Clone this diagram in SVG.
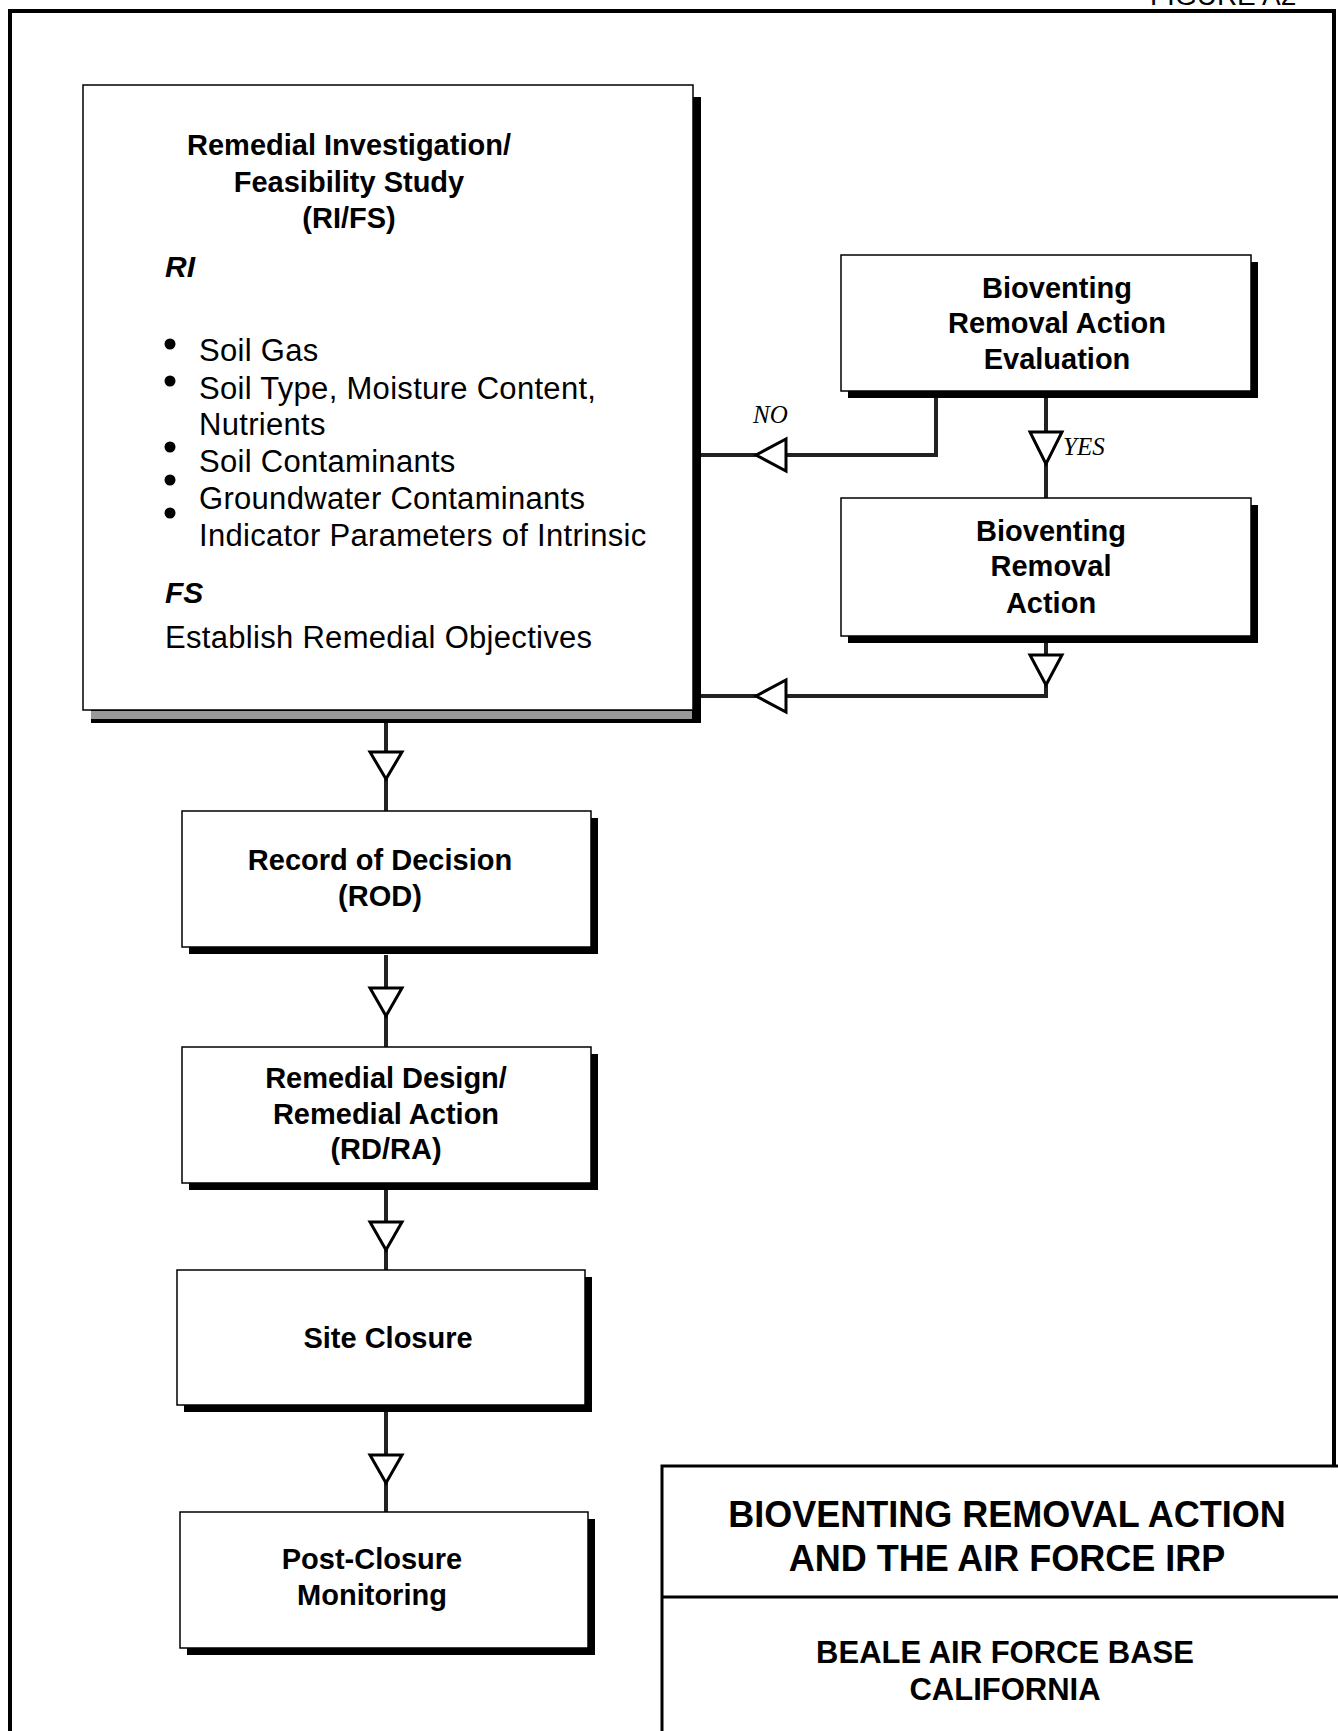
<svg xmlns="http://www.w3.org/2000/svg" width="1338" height="1731" viewBox="0 0 1338 1731">
<style>
.box{fill:#fff;stroke:#000;stroke-width:1.5}
.sh{fill:#000}
.b{font-family:"Liberation Sans",Arial,sans-serif;font-weight:bold;font-size:29px;text-anchor:middle;fill:#000}
.bi{font-family:"Liberation Sans",Arial,sans-serif;font-weight:bold;font-style:italic;font-size:30px;fill:#000}
.r{font-family:"Liberation Sans",Arial,sans-serif;font-size:31px;letter-spacing:0.3px;fill:#000}
.lbl{font-family:"Liberation Serif","Times New Roman",serif;font-style:italic;font-size:25px;fill:#000}
.t{font-family:"Liberation Sans",Arial,sans-serif;font-weight:bold;text-anchor:middle;fill:#000}
.conn{fill:none;stroke:#222;stroke-width:4}
.ah{fill:#fff;stroke:#000;stroke-width:3;stroke-linejoin:miter}
</style>
<rect width="1338" height="1731" fill="#fff"/>
<text x="1150" y="5" style="font-family:'Liberation Sans',Arial,sans-serif;font-size:28px">FIGURE A2</text>
<rect x="10" y="11" width="1324" height="1760" fill="none" stroke="#000" stroke-width="4"/>

<g id="connectors">
<path class="conn" d="M936 391 V455 H700"/>
<polygon class="ah" points="756,455 786,439 786,471"/>
<path class="conn" d="M1046 391 V498"/>
<polygon class="ah" points="1046,464 1030,432 1062,432"/>
<path class="conn" d="M1046 636 V696 H701"/>
<polygon class="ah" points="1046,685 1030,655 1062,655"/>
<polygon class="ah" points="756,696 786,680 786,712"/>
<path class="conn" d="M386 722 V811"/>
<polygon class="ah" points="386,779 370,752 402,752"/>
<path class="conn" d="M386 955 V1047"/>
<polygon class="ah" points="386,1016 370,988 402,988"/>
<path class="conn" d="M386 1190 V1270"/>
<polygon class="ah" points="386,1250 370,1222 402,1222"/>
<path class="conn" d="M386 1412 V1512"/>
<polygon class="ah" points="386,1483 370,1455 402,1455"/>
<text class="lbl" x="753" y="423">NO</text>
<text class="lbl" x="1063" y="455">YES</text>
</g>

<g id="rifs">
<rect class="sh" x="91" y="97" width="610" height="626"/>
<rect x="91" y="711" width="601" height="8" fill="#999"/>
<rect class="box" x="83" y="85" width="610" height="625"/>
<text class="b" x="349" y="155">Remedial Investigation/</text>
<text class="b" x="349" y="192">Feasibility Study</text>
<text class="b" x="349" y="228">(RI/FS)</text>
<text class="bi" x="165" y="277">RI</text>
<circle cx="170" cy="344" r="5.5"/>
<circle cx="170" cy="381" r="5.5"/>
<circle cx="170" cy="447" r="5.5"/>
<circle cx="170" cy="480" r="5.5"/>
<circle cx="170" cy="513" r="5.5"/>
<text class="r" x="199" y="361">Soil Gas</text>
<text class="r" x="199" y="399">Soil Type, Moisture Content,</text>
<text class="r" x="199" y="435">Nutrients</text>
<text class="r" x="199" y="472">Soil Contaminants</text>
<text class="r" x="199" y="509">Groundwater Contaminants</text>
<text class="r" x="199" y="546">Indicator Parameters of Intrinsic</text>
<text class="bi" x="165" y="603">FS</text>
<text class="r" x="165" y="648">Establish Remedial Objectives</text>
</g>

<g id="evaluation">
<rect class="sh" x="848" y="262" width="410" height="136"/>
<rect class="box" x="841" y="255" width="410" height="136"/>
<text class="b" x="1057" y="298">Bioventing</text>
<text class="b" x="1057" y="333">Removal Action</text>
<text class="b" x="1057" y="369">Evaluation</text>
</g>

<g id="removal-action">
<rect class="sh" x="848" y="505" width="410" height="138"/>
<rect class="box" x="841" y="498" width="410" height="138"/>
<text class="b" x="1051" y="541">Bioventing</text>
<text class="b" x="1051" y="576">Removal</text>
<text class="b" x="1051" y="613">Action</text>
</g>

<g id="rod">
<rect class="sh" x="189" y="818" width="409" height="136"/>
<rect class="box" x="182" y="811" width="409" height="136"/>
<text class="b" x="380" y="870">Record of Decision</text>
<text class="b" x="380" y="906">(ROD)</text>
</g>

<g id="rdra">
<rect class="sh" x="189" y="1054" width="409" height="136"/>
<rect class="box" x="182" y="1047" width="409" height="136"/>
<text class="b" x="386" y="1088">Remedial Design/</text>
<text class="b" x="386" y="1124">Remedial Action</text>
<text class="b" x="386" y="1159">(RD/RA)</text>
</g>

<g id="site-closure">
<rect class="sh" x="184" y="1277" width="408" height="135"/>
<rect class="box" x="177" y="1270" width="408" height="135"/>
<text class="b" x="388" y="1348">Site Closure</text>
</g>

<g id="post-closure">
<rect class="sh" x="187" y="1519" width="408" height="136"/>
<rect class="box" x="180" y="1512" width="408" height="136"/>
<text class="b" x="372" y="1569">Post-Closure</text>
<text class="b" x="372" y="1605">Monitoring</text>
</g>

<g id="title-block">
<rect x="662" y="1466" width="680" height="300" fill="#fff" stroke="#000" stroke-width="3"/>
<line x1="662" y1="1597" x2="1338" y2="1597" stroke="#000" stroke-width="3"/>
<text class="t" x="1007" y="1527" style="font-size:36px">BIOVENTING REMOVAL ACTION</text>
<text class="t" x="1007" y="1571" style="font-size:36px">AND THE AIR FORCE IRP</text>
<text class="t" x="1005" y="1663" style="font-size:31px">BEALE AIR FORCE BASE</text>
<text class="t" x="1005" y="1700" style="font-size:31px">CALIFORNIA</text>
</g>
</svg>
